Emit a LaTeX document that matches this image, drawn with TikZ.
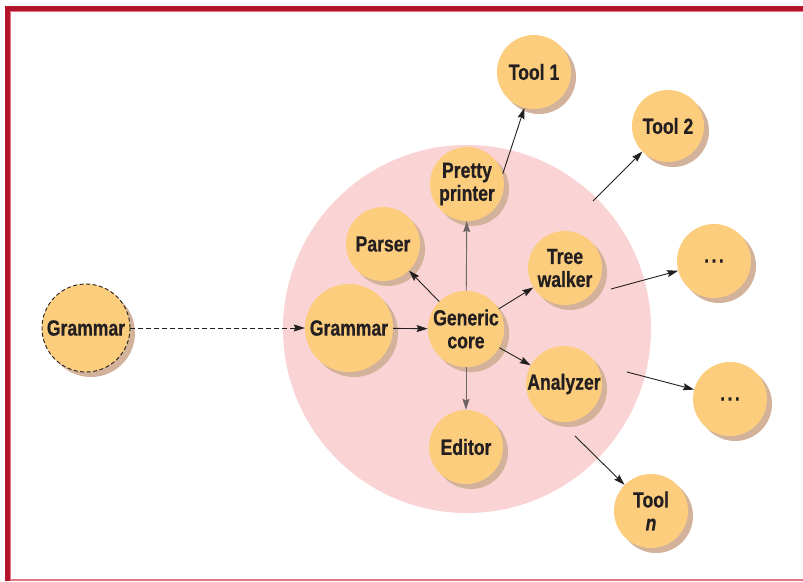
\documentclass[tikz,border=0pt]{standalone}
\usepackage{fontspec}
\setmainfont{Liberation Sans}[FakeStretch=0.8, BoldFeatures={FakeBold=0.6}, BoldItalicFeatures={FakeBold=0.6}]
\usetikzlibrary{arrows.meta,shadows}
\definecolor{nodefill}{HTML}{FDCD7E}
\definecolor{shadowc}{HTML}{D2B29A}
\definecolor{bigpink}{HTML}{FAD3D4}
\definecolor{framered}{HTML}{B5152B}
\definecolor{framelight}{HTML}{E27484}
\definecolor{ink}{HTML}{231F20}
\definecolor{grayline}{HTML}{6E6567}
\newcommand{\mydots}{.\kern2.5pt.\kern2.5pt.}
\begin{document}
\begin{tikzpicture}[x=1pt,y=-1pt,
  tnode/.style={circle, fill=nodefill, minimum size=74pt, inner sep=0pt,
    align=center, font=\fontsize{22}{23}\selectfont\bfseries, text=ink,
    general shadow={fill=shadowc, shadow xshift=5pt, shadow yshift=-5pt}},
  conn/.style={draw=ink, line width=0.9pt, -{Stealth[length=11pt,width=7pt,inset=1.5pt]}},
  grayconn/.style={conn, draw=grayline}]
\useasboundingbox (0,0) rectangle (803,581);
% frame
\fill[framered] (5,6) rectangle (803,11);
\fill[framered] (5,6) rectangle (10,581);
\draw[framelight, line width=1pt] (10,11.5) -- (803,11.5);
\draw[framelight, line width=1pt] (10.5,11) -- (10.5,581);
\draw[framelight, line width=1.2pt] (10,580) -- (803,580);
% background domain
\node[circle, fill=bigpink, minimum size=368pt, inner sep=0pt] (domain) at (467,329) {};
% nodes
\node[tnode, minimum size=88pt, draw=ink, dashed, line width=0.9pt, dash pattern=on 4pt off 2.5pt] (gramOut) at (86,328) {Grammar};
\node[tnode, minimum size=88pt] (gram) at (349,328) {Grammar};
\node[tnode] (parser) at (383,244) {Parser};
\node[tnode, minimum size=76pt] (core) at (466,329) {Generic\\core};
\node[tnode] (pretty) at (467,184) {Pretty\\printer};
\node[tnode] (tool1) at (534,72) {Tool 1};
\node[tnode, minimum size=72pt] (tool2) at (668,126) {Tool 2};
\node[tnode] (tree) at (565,268) {Tree\\walker};
\node[tnode] (dots1) at (714,261) {\mydots};
\node[tnode] (dots2) at (730,399) {\mydots};
\node[tnode] (analyzer) at (564,384) {Analyzer};
\node[tnode] (editor) at (466,447) {Editor};
\node[tnode] (tooln) at (651,511) {Tool\\\textit{n}};
% free starting points
\coordinate (c2) at (593,201);
\coordinate (cd1) at (611,289);
\coordinate (cd2) at (627,372);
\coordinate (cn) at (575,436);
% connectors
\draw[conn, dash pattern=on 5pt off 3pt] (gramOut) -- (gram);
\draw[conn] (gram) -- (core);
\draw[conn] (core) -- (parser);
\draw[grayconn] (core) -- (pretty);
\draw[conn] (core) -- (tree);
\draw[conn] (core) -- (analyzer);
\draw[grayconn] (core) -- (editor);
\draw[conn] (pretty.16) -- (tool1.255);
\draw[conn] (c2) -- (tool2);
\draw[conn] (cd1) -- (dots1);
\draw[conn] (cd2) -- (dots2);
\draw[conn] (cn) -- (tooln);
\end{tikzpicture}
\end{document}
